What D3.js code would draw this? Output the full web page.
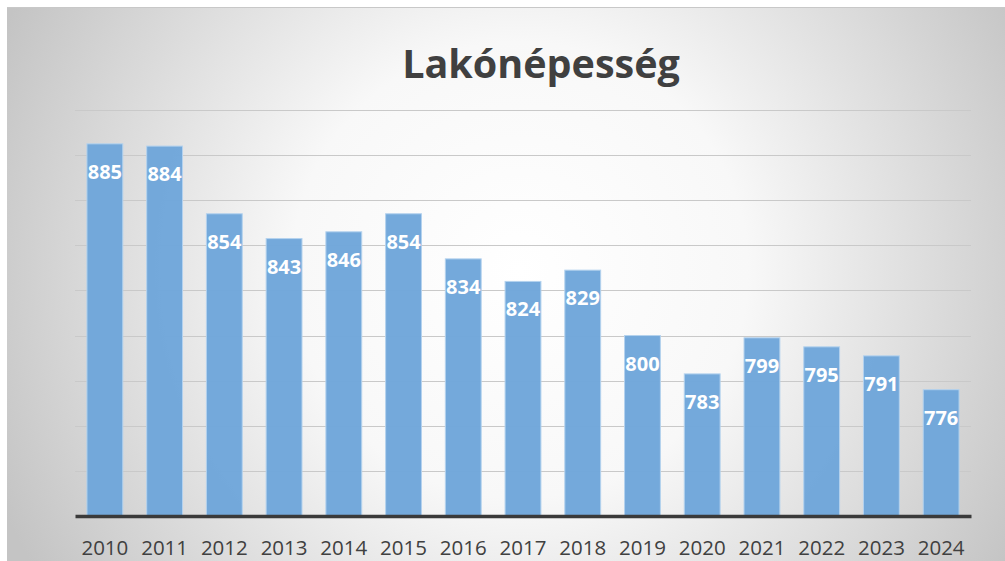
<!DOCTYPE html>
<html>
<head>
<meta charset="utf-8">
<script src="https://cdn.jsdelivr.net/npm/d3@7"></script>
<style>
  body { margin: 0; background: #fff; }
</style>
</head>
<body>
<div id="chart"></div>
<script>
const years = ["2010", "2011", "2012", "2013", "2014", "2015", "2016", "2017", "2018", "2019", "2020", "2021", "2022", "2023", "2024"];
const population = [885, 884, 854, 843, 846, 854, 834, 824, 829, 800, 783, 799, 795, 791, 776];
const gridValues = [740, 760, 780, 800, 820, 840, 860, 880, 900];
const chartTitle = "Lakónépesség";

function main() {
    const width = 1005;
    const height = 561;
    const svg = d3.select("#chart")
        .append("svg")
        .attr("width", width)
        .attr("height", height)

    // background gradient, white in the middle and grey at the edges
    const defs = svg.append("defs")
    const grad = defs.append("radialGradient")
        .attr("id", "bg")
        .attr("gradientUnits", "userSpaceOnUse")
        .attr("cx", 520).attr("cy", 270).attr("r", 570)
    grad.append("stop").attr("offset", "0%").attr("stop-color", "#ffffff")
    grad.append("stop").attr("offset", "40%").attr("stop-color", "#f8f8f8")
    grad.append("stop").attr("offset", "100%").attr("stop-color", "#c4c4c4")

    svg.append("rect")
        .attr("x", 7).attr("y", 7)
        .attr("width", width - 7).attr("height", height - 7)
        .style("fill", "url(#bg)")
    svg.append("line")
        .attr("x1", 7).attr("x2", width)
        .attr("y1", 7.5).attr("y2", 7.5)
        .style("stroke", "#c8c8c8")
        .style("stroke-width", 1)

    const left = 75, right = 971, top = 110, bottom = 516;

    const x = d3.scaleBand().domain(years)
        .range([left, right])
        .paddingInner(0.4)
        .paddingOuter(0.2)

    const y = d3.scaleLinear().domain([720, 900])
        .range([bottom, top])

    // gridlines
    svg.append("g")
        .selectAll("line")
        .data(gridValues)
        .join("line")
        .attr("x1", left).attr("x2", right)
        .attr("y1", d => Math.round(y(d)) + 0.5)
        .attr("y2", d => Math.round(y(d)) + 0.5)
        .style("stroke", "#c9c9c9")
        .style("stroke-width", 1)

    // bars
    svg.append("g")
        .selectAll("rect")
        .data(population)
        .join("rect")
        .attr("x", (d, i) => x(years[i]))
        .attr("y", d => y(d))
        .attr("width", x.bandwidth())
        .attr("height", d => bottom - y(d))
        .style("fill", "#6fa6da")
        .style("fill-opacity", 0.97)
        .style("stroke", "#b4d2ee")
        .style("stroke-width", 1)

    // value labels inside bars
    svg.append("g")
        .selectAll("text")
        .data(population)
        .join("text")
        .attr("x", (d, i) => x(years[i]) + x.bandwidth() / 2)
        .attr("y", d => y(d) + 35)
        .attr("text-anchor", "middle")
        .style("font-family", "'Open Sans', sans-serif")
        .style("font-weight", "bold")
        .style("font-size", "20px")
        .style("fill", "#ffffff")
        .text(d => d)

    // baseline and category axis
    const xAxis = d3.axisBottom(x).tickSize(0).tickPadding(24)
    const axisG = svg.append("g")
        .attr("transform", `translate(0,${bottom})`)
        .call(xAxis)
    axisG.select(".domain")
        .style("stroke", "#3a3a3a")
        .style("stroke-width", 3.5)
    axisG.selectAll("text")
        .style("font-family", "'Open Sans', sans-serif")
        .style("font-size", "20.5px")
        .style("fill", "#404040")

    // title
    svg.append("text")
        .attr("x", 541)
        .attr("y", 78)
        .attr("text-anchor", "middle")
        .style("font-family", "'Open Sans', sans-serif")
        .style("font-weight", "bold")
        .style("font-size", "39.5px")
        .style("fill", "#404040")
        .text(chartTitle)
}
main();
</script>
</body>
</html>
